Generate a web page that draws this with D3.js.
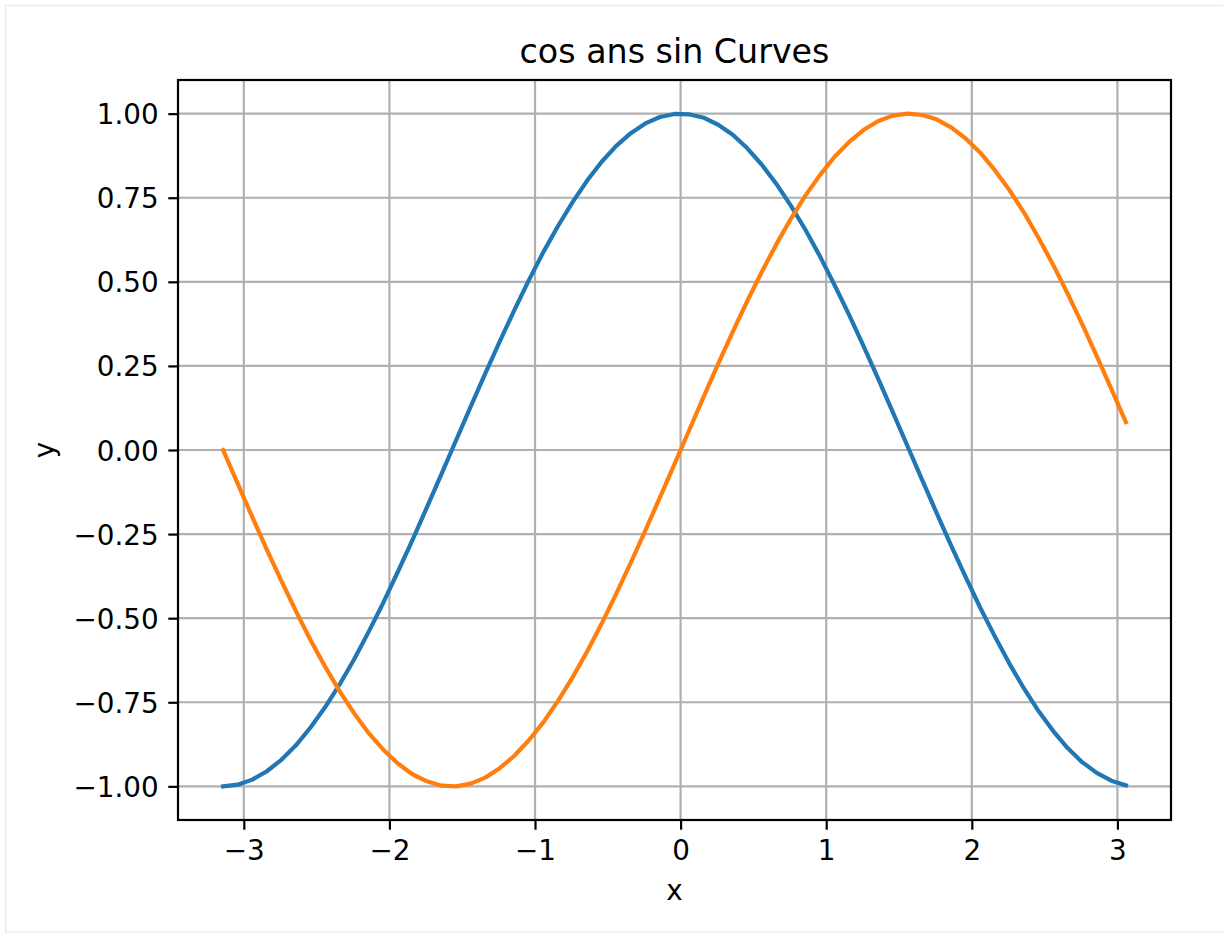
<!DOCTYPE html>
<html>
<head>
<meta charset="utf-8">
<script src="https://cdn.jsdelivr.net/npm/d3@7"></script>
<style>
  html, body { margin: 0; padding: 0; background: #ffffff; }
  svg { display: block; }
  text { font-family: "DejaVu Sans", sans-serif; fill: #000; }
</style>
</head>
<body>
<svg id="chart" width="1223" height="933"></svg>
<script>
// Sample positions along x (step 0.1 starting at -pi)
const xValues = [
  -3.142, -3.042, -2.942, -2.842, -2.742, -2.642, -2.542, -2.442, -2.342, -2.242,
  -2.142, -2.042, -1.942, -1.842, -1.742, -1.642, -1.542, -1.442, -1.342, -1.242,
  -1.142, -1.042, -0.942, -0.842, -0.742, -0.642, -0.542, -0.442, -0.342, -0.242,
  -0.142, -0.042, 0.058, 0.158, 0.258, 0.358, 0.458, 0.558, 0.658, 0.758,
  0.858, 0.958, 1.058, 1.158, 1.258, 1.358, 1.458, 1.558, 1.658, 1.758,
  1.858, 1.958, 2.058, 2.158, 2.258, 2.358, 2.458, 2.558, 2.658, 2.758,
  2.858, 2.958, 3.058
];

// cos curve values
const cosValues = [
  -1.000, -0.995, -0.980, -0.955, -0.921, -0.878, -0.825, -0.765, -0.697, -0.622,
  -0.540, -0.454, -0.362, -0.268, -0.170, -0.071, 0.029, 0.129, 0.227, 0.323,
  0.416, 0.505, 0.589, 0.666, 0.737, 0.801, 0.857, 0.904, 0.942, 0.971,
  0.990, 0.999, 0.998, 0.988, 0.967, 0.937, 0.897, 0.848, 0.791, 0.726,
  0.654, 0.575, 0.490, 0.401, 0.307, 0.211, 0.112, 0.012, -0.088, -0.187,
  -0.284, -0.378, -0.469, -0.554, -0.635, -0.709, -0.776, -0.835, -0.886, -0.928,
  -0.960, -0.983, -0.997
];

// sin curve values
const sinValues = [
  0.000, -0.100, -0.199, -0.296, -0.389, -0.479, -0.565, -0.644, -0.717, -0.783,
  -0.842, -0.891, -0.932, -0.964, -0.985, -0.998, -1.000, -0.992, -0.974, -0.946,
  -0.909, -0.863, -0.809, -0.746, -0.676, -0.599, -0.516, -0.427, -0.335, -0.239,
  -0.141, -0.042, 0.058, 0.158, 0.256, 0.351, 0.443, 0.530, 0.612, 0.688,
  0.757, 0.818, 0.872, 0.916, 0.952, 0.978, 0.994, 1.000, 0.996, 0.983,
  0.959, 0.926, 0.884, 0.832, 0.773, 0.706, 0.631, 0.551, 0.465, 0.374,
  0.279, 0.182, 0.083
];

const xTicks = [-3, -2, -1, 0, 1, 2, 3];
const yTicks = [-1.00, -0.75, -0.50, -0.25, 0.00, 0.25, 0.50, 0.75, 1.00];

const seriesNames = ["cos", "sin"];
const seriesColors = ["#1f77b4", "#ff7f0e"];
const titleText = "cos ans sin Curves";
const xLabel = "x";
const yLabel = "y";

// Plot area in page pixels
const plot = { left: 178, right: 1171, top: 80, bottom: 820 };

const svg = d3.select("#chart");

// faint outer frame
svg.append("rect")
  .attr("x", 5.5).attr("y", 5.5)
  .attr("width", 1230).attr("height", 926.5)
  .attr("fill", "none")
  .attr("stroke", "#e8e8e8")
  .attr("stroke-width", 1.2);

// Domains padded by 5% of the data span
const xMin = d3.min(xValues), xMax = d3.max(xValues);
const xPad = (xMax - xMin) * 0.05;
const allY = cosValues.concat(sinValues);
const yMin = d3.min(allY), yMax = d3.max(allY);
const yPad = (yMax - yMin) * 0.05;

const x = d3.scaleLinear().domain([xMin - xPad, xMax + xPad]).range([plot.left, plot.right]);
const y = d3.scaleLinear().domain([yMin - yPad, yMax + yPad]).range([plot.bottom, plot.top]);

const tickLen = 9.7;
const tickPad = 9.7;
const lw = 2.2;
const tickFont = 27.8;

// grid
const grid = svg.append("g").attr("class", "grid");
grid.selectAll("line.gx").data(xTicks).join("line")
  .attr("class", "gx")
  .attr("x1", d => x(d)).attr("x2", d => x(d))
  .attr("y1", plot.top).attr("y2", plot.bottom)
  .attr("stroke", "#b0b0b0").attr("stroke-width", lw);
grid.selectAll("line.gy").data(yTicks).join("line")
  .attr("class", "gy")
  .attr("x1", plot.left).attr("x2", plot.right)
  .attr("y1", d => y(d)).attr("y2", d => y(d))
  .attr("stroke", "#b0b0b0").attr("stroke-width", lw);

// curves
const series = [cosValues, sinValues];
const lineGen = d3.line()
  .x(d => x(d[0]))
  .y(d => y(d[1]));

svg.append("g").attr("class", "curves")
  .selectAll("path").data(series).join("path")
  .attr("d", vals => lineGen(xValues.map((xv, i) => [xv, vals[i]])))
  .attr("fill", "none")
  .attr("stroke", (d, i) => seriesColors[i])
  .attr("stroke-width", 4.2)
  .attr("stroke-linejoin", "round")
  .attr("stroke-linecap", "square")
  .attr("data-name", (d, i) => seriesNames[i]);

// x axis
const fmtX = d3.format("d");
const xAxis = d3.axisBottom(x).tickValues(xTicks).tickFormat(fmtX)
  .tickSize(tickLen).tickPadding(tickPad).tickSizeOuter(0);
const gx = svg.append("g").attr("transform", `translate(0,${plot.bottom})`).call(xAxis);
gx.select(".domain").remove();
gx.selectAll(".tick line").attr("stroke", "#000").attr("stroke-width", lw);
gx.selectAll(".tick text")
  .attr("font-family", "DejaVu Sans").attr("font-size", tickFont)
  .attr("fill", "#000")
  .attr("y", tickLen + tickPad).attr("dy", "0.74em");

// y axis
const fmtY = d3.format(".2f");
const yAxis = d3.axisLeft(y).tickValues(yTicks).tickFormat(fmtY)
  .tickSize(tickLen).tickPadding(tickPad).tickSizeOuter(0);
const gy = svg.append("g").attr("transform", `translate(${plot.left},0)`).call(yAxis);
gy.select(".domain").remove();
gy.selectAll(".tick line").attr("stroke", "#000").attr("stroke-width", lw);
gy.selectAll(".tick text")
  .attr("font-family", "DejaVu Sans").attr("font-size", tickFont)
  .attr("fill", "#000")
  .attr("dy", "0.36em");

// frame (spines)
svg.append("rect")
  .attr("x", plot.left).attr("y", plot.top)
  .attr("width", plot.right - plot.left).attr("height", plot.bottom - plot.top)
  .attr("fill", "none").attr("stroke", "#000").attr("stroke-width", lw)
  .attr("stroke-linejoin", "miter");

// title and axis labels
svg.append("text")
  .attr("x", (plot.left + plot.right) / 2).attr("y", 63)
  .attr("text-anchor", "middle")
  .attr("font-size", 33.3)
  .text(titleText);

svg.append("text")
  .attr("x", (plot.left + plot.right) / 2).attr("y", 900)
  .attr("text-anchor", "middle")
  .attr("font-size", tickFont)
  .text(xLabel);

svg.append("text")
  .attr("transform", `translate(54,${(plot.top + plot.bottom) / 2}) rotate(-90)`)
  .attr("text-anchor", "middle")
  .attr("font-size", tickFont)
  .text(yLabel);
</script>
</body>
</html>
